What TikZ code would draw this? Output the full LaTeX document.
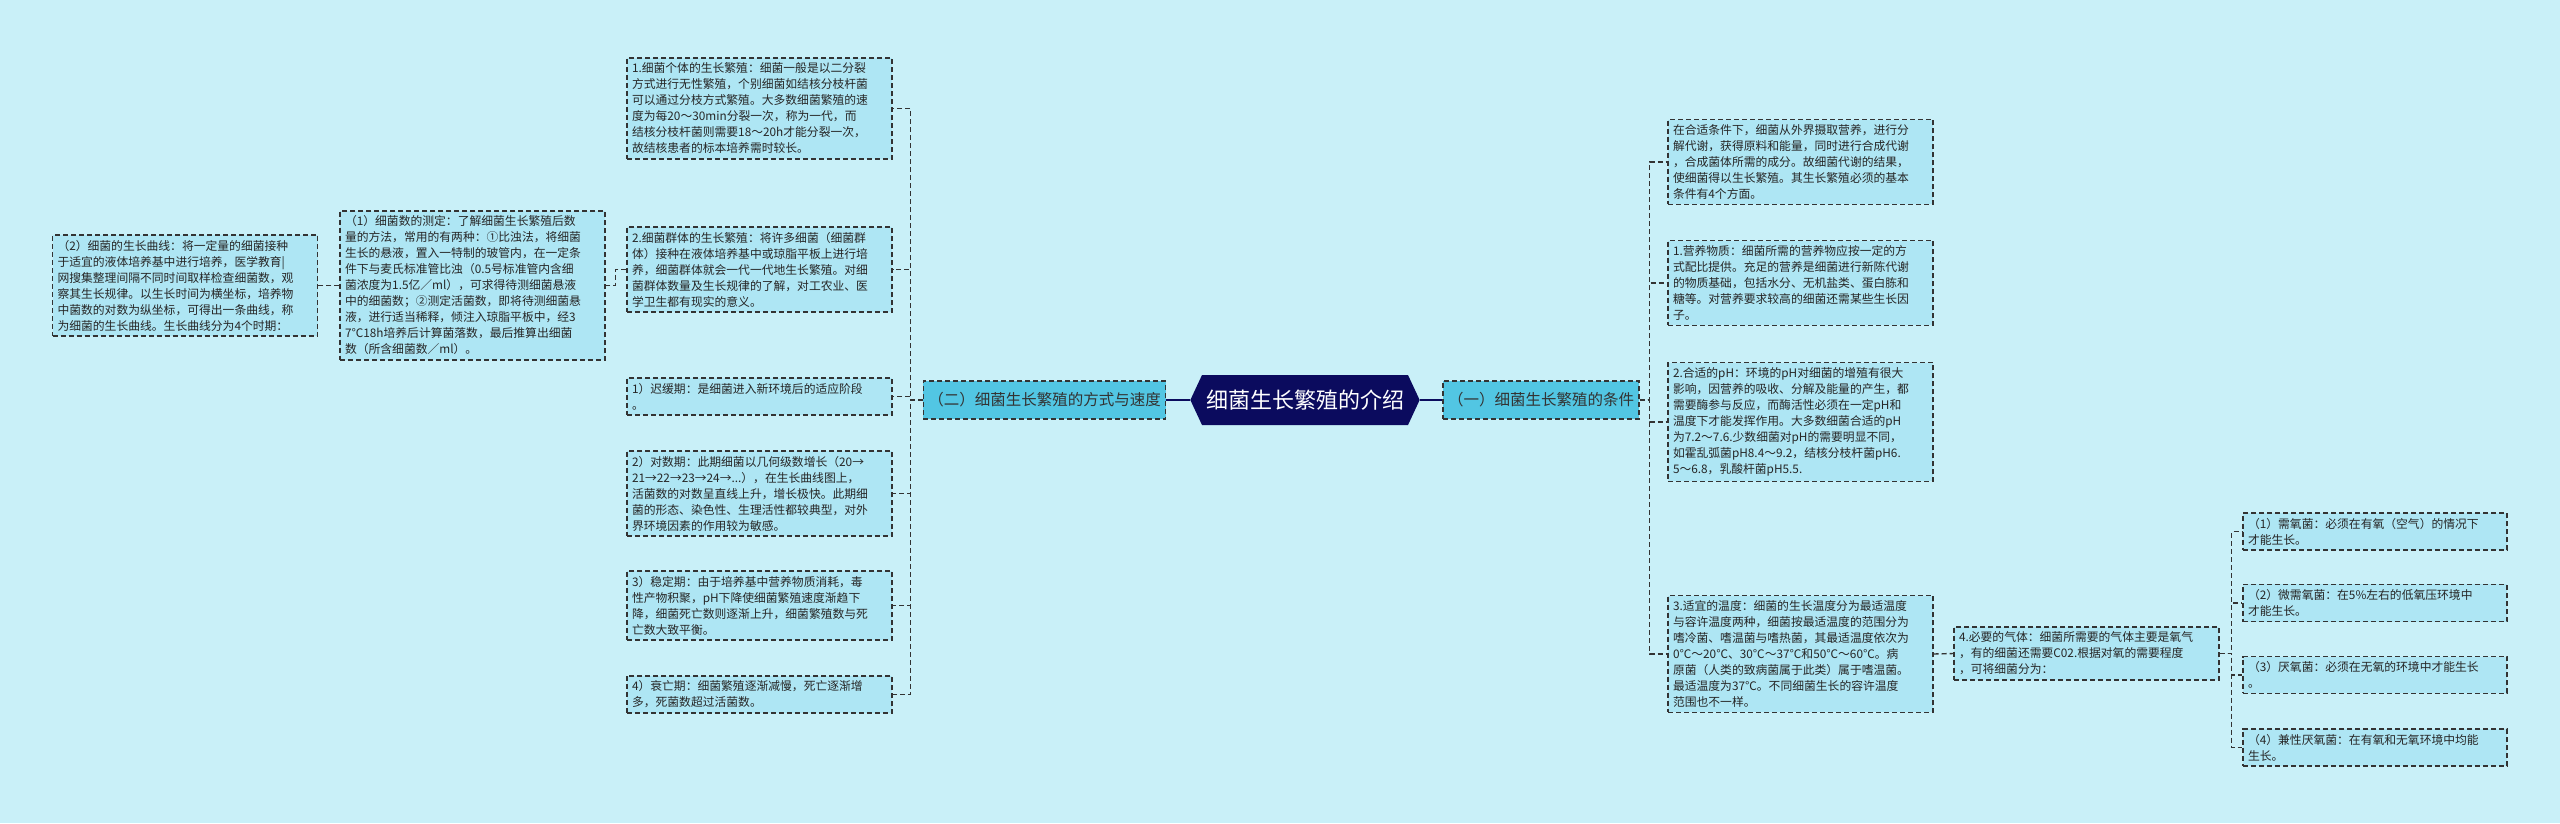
\documentclass[tikz,border=0pt]{standalone}
\usepackage{fontspec}
\setmainfont{Noto Sans CJK SC}
\usetikzlibrary{shapes.symbols}
\definecolor{bgcol}{HTML}{C9F0F8}
\definecolor{boxcol}{HTML}{AEE6F4}
\definecolor{topcol}{HTML}{52C6E3}
\definecolor{rootcol}{HTML}{0B0B5E}
\definecolor{edgecol}{HTML}{333333}

\tikzset{
  leaf/.style={draw=edgecol, dash pattern=on 5pt off 3pt, line width=1.4pt, fill=boxcol, text=black!85,
    inner sep=5pt, text width=255pt, align=left,
    font=\fontsize{11.8}{16}\selectfont},
  small/.style={leaf, text width=254pt},
  topic/.style={draw=edgecol, dash pattern=on 5pt off 3pt, line width=1.4pt, fill=topcol, text=black!80,
    inner sep=5pt, minimum height=38pt, font=\fontsize{15.5}{18}\selectfont},
  rootbox/.style={shape=signal, signal to=east and west, signal pointer angle=130,
    fill=rootcol, text=white, minimum height=50pt, minimum width=218pt, inner xsep=4pt,
    font=\fontsize{22}{26}\selectfont},
  link/.style={draw=edgecol, dash pattern=on 5pt off 3pt, line width=1.4pt},
  stem/.style={draw=rootcol, line width=2.5pt}
}

\begin{document}
\begin{tikzpicture}[x=1pt, y=-1pt]

% Background
\fill[bgcol] (0,0) rectangle (2560,823);
\useasboundingbox (0,0) rectangle (2560,823);

% Root and main topics
\node[rootbox] (root) at (1305,400) {细菌生长繁殖的介绍};
\node[topic] (ways) at (1044.5,400) {（二）细菌生长繁殖的方式与速度};
\node[topic] (cond) at (1541,400) {（一）细菌生长繁殖的条件};

% Left branch
\node[leaf] (indiv) at (759.5,108.5) {1.细菌个体的生长繁殖：细菌一般是以二分裂\\方式进行无性繁殖，个别细菌如结核分枝杆菌\\可以通过分枝方式繁殖。大多数细菌繁殖的速\\度为每20～30min分裂一次，称为一代，而\\结核分枝杆菌则需要18～20h才能分裂一次，\\故结核患者的标本培养需时较长。};
\node[leaf] (group) at (759.5,269.5) {2.细菌群体的生长繁殖：将许多细菌（细菌群\\体）接种在液体培养基中或琼脂平板上进行培\\养，细菌群体就会一代一代地生长繁殖。对细\\菌群体数量及生长规律的了解，对工农业、医\\学卫生都有现实的意义。};
\node[leaf] (count) at (472.5,285.5) {（1）细菌数的测定：了解细菌生长繁殖后数\\量的方法，常用的有两种：①比浊法，将细菌\\生长的悬液，置入一特制的玻管内，在一定条\\件下与麦氏标准管比浊（0.5号标准管内含细\\菌浓度为1.5亿／ml），可求得待测细菌悬液\\中的细菌数；②测定活菌数，即将待测细菌悬\\液，进行适当稀释，倾注入琼脂平板中，经3\\7℃18h培养后计算菌落数，最后推算出细菌\\数（所含细菌数／ml）。};
\node[leaf] (curve) at (185,285.5) {（2）细菌的生长曲线：将一定量的细菌接种\\于适宜的液体培养基中进行培养，医学教育|\\网搜集整理间隔不同时间取样检查细菌数，观\\察其生长规律。以生长时间为横坐标，培养物\\中菌数的对数为纵坐标，可得出一条曲线，称\\为细菌的生长曲线。生长曲线分为4个时期：};
\node[leaf] (lag) at (759.5,396.5) {1）迟缓期：是细菌进入新环境后的适应阶段\\。};
\node[leaf] (logp) at (759.5,493.5) {2）对数期：此期细菌以几何级数增长（20→\\21→22→23→24→...），在生长曲线图上，\\活菌数的对数呈直线上升，增长极快。此期细\\菌的形态、染色性、生理活性都较典型，对外\\界环境因素的作用较为敏感。};
\node[leaf] (stable) at (759.5,605.5) {3）稳定期：由于培养基中营养物质消耗，毒\\性产物积聚，pH下降使细菌繁殖速度渐趋下\\降，细菌死亡数则逐渐上升，细菌繁殖数与死\\亡数大致平衡。};
\node[leaf] (decline) at (759.5,694.5) {4）衰亡期：细菌繁殖逐渐减慢，死亡逐渐增\\多，死菌数超过活菌数。};

% Right branch
\node[leaf] (intro) at (1800.5,162) {在合适条件下，细菌从外界摄取营养，进行分\\解代谢，获得原料和能量，同时进行合成代谢\\，合成菌体所需的成分。故细菌代谢的结果，\\使细菌得以生长繁殖。其生长繁殖必须的基本\\条件有4个方面。};
\node[leaf] (nutri) at (1800.5,283) {1.营养物质：细菌所需的营养物应按一定的方\\式配比提供。充足的营养是细菌进行新陈代谢\\的物质基础，包括水分、无机盐类、蛋白胨和\\糖等。对营养要求较高的细菌还需某些生长因\\子。};
\node[leaf] (ph) at (1800.5,422) {2.合适的pH：环境的pH对细菌的增殖有很大\\影响，因营养的吸收、分解及能量的产生，都\\需要酶参与反应，而酶活性必须在一定pH和\\温度下才能发挥作用。大多数细菌合适的pH\\为7.2～7.6.少数细菌对pH的需要明显不同，\\如霍乱弧菌pH8.4～9.2，结核分枝杆菌pH6.\\5～6.8，乳酸杆菌pH5.5.};
\node[leaf] (temp) at (1800.5,654) {3.适宜的温度：细菌的生长温度分为最适温度\\与容许温度两种，细菌按最适温度的范围分为\\嗜冷菌、嗜温菌与嗜热菌，其最适温度依次为\\0℃～20℃、30℃～37℃和50℃～60℃。病\\原菌（人类的致病菌属于此类）属于嗜温菌。\\最适温度为37℃。不同细菌生长的容许温度\\范围也不一样。};
\node[leaf] (gas) at (2086.5,653.5) {4.必要的气体：细菌所需要的气体主要是氧气\\，有的细菌还需要C02.根据对氧的需要程度\\，可将细菌分为：};
\node[small] (aero) at (2375,531.5) {（1）需氧菌：必须在有氧（空气）的情况下\\才能生长。};
\node[small] (micro) at (2375,603) {（2）微需氧菌：在5\%左右的低氧压环境中\\才能生长。};
\node[small] (anaer) at (2375,675) {（3）厌氧菌：必须在无氧的环境中才能生长\\。};
\node[small] (facul) at (2375,747.5) {（4）兼性厌氧菌：在有氧和无氧环境中均能\\生长。};

% Stems from the root
\draw[stem] (root.west) -- (ways.east);
\draw[stem] (root.east) -- (cond.west);

% Left connectors
\foreach \c in {indiv,group,lag,logp,stable,decline}
  \draw[link] (ways.west) -- ++(-12,0) |- (\c.east);
\draw[link] (group.west) -- ++(-11,0) |- (count.east);
\draw[link] (count.west) -- (curve.east);

% Right connectors
\foreach \c in {intro,nutri,ph,temp}
  \draw[link] (cond.east) -- ++(10,0) |- (\c.west);
\draw[link] (temp.east) -- (gas.west);
\foreach \c in {aero,micro,anaer,facul}
  \draw[link] (gas.east) -- ++(12,0) |- (\c.west);

\end{tikzpicture}
\end{document}
